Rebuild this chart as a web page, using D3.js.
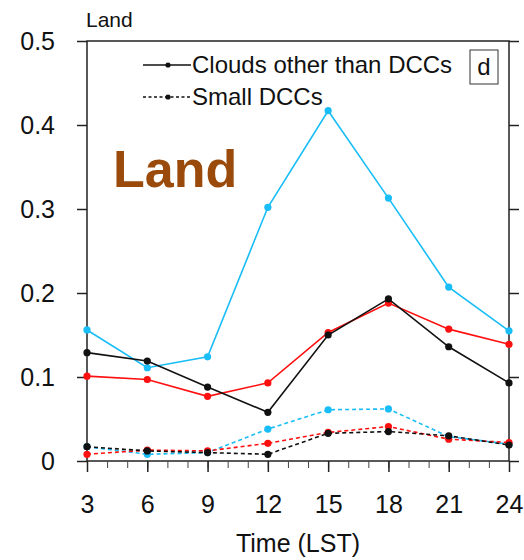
<!DOCTYPE html>
<html>
<head>
  <meta charset="utf-8">
  <script src="https://d3js.org/d3.v7.min.js"></script>
  <style>
    body { margin: 0; background: #fff; }
    text { font-family: "Liberation Sans", Arial, sans-serif; }
  </style>
</head>
<body>
<script>
// data
var hours = [3, 6, 9, 12, 15, 18, 21, 24];
var yTicks = [0, 0.1, 0.2, 0.3, 0.4, 0.5];

// clouds other than DCCs (solid)
var otherCyan  = [0.156, 0.111, 0.124, 0.302, 0.417, 0.313, 0.207, 0.155];
var otherRed   = [0.101, 0.097, 0.077, 0.093, 0.153, 0.188, 0.157, 0.139];
var otherBlack = [0.129, 0.119, 0.088, 0.058, 0.150, 0.193, 0.136, 0.093];

// small DCCs (dashed)
var smallCyan  = [0.017, 0.008, 0.010, 0.038, 0.061, 0.062, 0.029, 0.020];
var smallRed   = [0.008, 0.013, 0.012, 0.021, 0.034, 0.041, 0.026, 0.022];
var smallBlack = [0.017, 0.012, 0.010, 0.008, 0.033, 0.035, 0.030, 0.019];

var legendLabels = ["Clouds other than DCCs", "Small DCCs"];

var W = 524, H = 560;
var margin = { top: 41, right: 15, bottom: 99, left: 87 };
var width = W - margin.left - margin.right,
    height = H - margin.top - margin.bottom;

var svg = d3.select("body").append("svg")
    .attr("width", W)
    .attr("height", H);

var g = svg.append("g")
    .attr("transform", "translate(" + margin.left + "," + margin.top + ")");

var x = d3.scaleLinear().domain([3, 24]).range([0, width]);
var y = d3.scaleLinear().domain([0, 0.5]).range([height, 0]);

// frame
g.append("rect")
    .attr("width", width).attr("height", height)
    .attr("fill", "none").attr("stroke", "#222").attr("stroke-width", 1.5);

// y axes (left with labels, right ticks only)
var yl = g.append("g")
    .call(d3.axisLeft(y).tickValues(yTicks).tickSize(10).tickPadding(22)
      .tickFormat(function(d) { return d === 0 ? "0" : d3.format(".1f")(d); }));
yl.select(".domain").remove();
yl.selectAll(".tick line").attr("stroke", "#222").attr("stroke-width", 1.5);
yl.selectAll("text").attr("font-size", 25).attr("fill", "#111")
    .attr("font-family", "Liberation Sans, Arial, sans-serif");

var yr = g.append("g")
    .attr("transform", "translate(" + width + ",0)")
    .call(d3.axisRight(y).tickValues(yTicks).tickSize(10).tickFormat(""));
yr.select(".domain").remove();
yr.selectAll(".tick line").attr("stroke", "#222").attr("stroke-width", 1.5);

// x axis: hourly minor ticks, 3-hourly labels
var xm = g.append("g")
    .attr("transform", "translate(0," + height + ")")
    .call(d3.axisBottom(x).tickValues(d3.range(3, 25)).tickSize(7).tickFormat(""));
xm.select(".domain").remove();
xm.selectAll(".tick line").attr("stroke", "#444").attr("stroke-width", 1);

var xa = g.append("g")
    .attr("transform", "translate(0," + height + ")")
    .call(d3.axisBottom(x).tickValues(hours).tickSize(11).tickPadding(23));
xa.select(".domain").remove();
xa.selectAll(".tick line").attr("stroke", "#222").attr("stroke-width", 1.5);
xa.selectAll("text").attr("font-size", 25).attr("fill", "#111")
    .attr("font-family", "Liberation Sans, Arial, sans-serif");

g.append("text")
    .attr("x", width / 2).attr("y", height + 91)
    .attr("text-anchor", "middle")
    .attr("font-size", 25).attr("fill", "#111")
    .text("Time (LST)");

// small title
svg.append("text")
    .attr("x", 86).attr("y", 27)
    .attr("font-size", 21).attr("fill", "#111")
    .text("Land");

// big label
g.append("text")
    .attr("x", 26).attr("y", 146)
    .attr("font-family", "Lato, sans-serif")
    .attr("font-weight", "bold")
    .attr("font-size", 52)
    .attr("fill", "#9a4a0a")
    .text("Land");

// series
var line = d3.line()
    .x(function(d, i) { return x(hours[i]); })
    .y(function(d) { return y(d); });

var series = [
  { v: otherCyan,  c: "#19bdf7", dash: null },
  { v: otherRed,   c: "#ff1010", dash: null },
  { v: otherBlack, c: "#111",    dash: null },
  { v: smallCyan,  c: "#19bdf7", dash: "4,3" },
  { v: smallRed,   c: "#ff1010", dash: "4,3" },
  { v: smallBlack, c: "#111",    dash: "4,3" }
];

series.forEach(function(s) {
  g.append("path")
      .datum(s.v)
      .attr("d", line)
      .attr("fill", "none")
      .attr("stroke", s.c)
      .attr("stroke-width", 1.6)
      .attr("stroke-dasharray", s.dash);
  g.selectAll(null)
      .data(s.v)
      .enter().append("circle")
      .attr("cx", function(d, i) { return x(hours[i]); })
      .attr("cy", function(d) { return y(d); })
      .attr("r", 3.6)
      .attr("fill", s.c);
});

// legend
var leg = svg.append("g");
legendLabels.forEach(function(lab, i) {
  var ly = 65 + i * 32;
  leg.append("line")
      .attr("x1", 143).attr("x2", 191).attr("y1", ly).attr("y2", ly)
      .attr("stroke", "#111").attr("stroke-width", 1.3)
      .attr("stroke-dasharray", i === 1 ? "3,2.5" : null);
  leg.append("circle")
      .attr("cx", 168).attr("cy", ly).attr("r", 2.6).attr("fill", "#111");
  leg.append("text")
      .attr("x", 192).attr("y", ly + 8)
      .attr("font-size", 24).attr("fill", "#111")
      .text(lab);
});

// panel letter
svg.append("rect")
    .attr("x", 470).attr("y", 50).attr("width", 28).attr("height", 34)
    .attr("fill", "#fff").attr("stroke", "#333").attr("stroke-width", 1);
svg.append("text")
    .attr("x", 484).attr("y", 75)
    .attr("text-anchor", "middle")
    .attr("font-size", 24).attr("fill", "#111")
    .text("d");
</script>
</body>
</html>
